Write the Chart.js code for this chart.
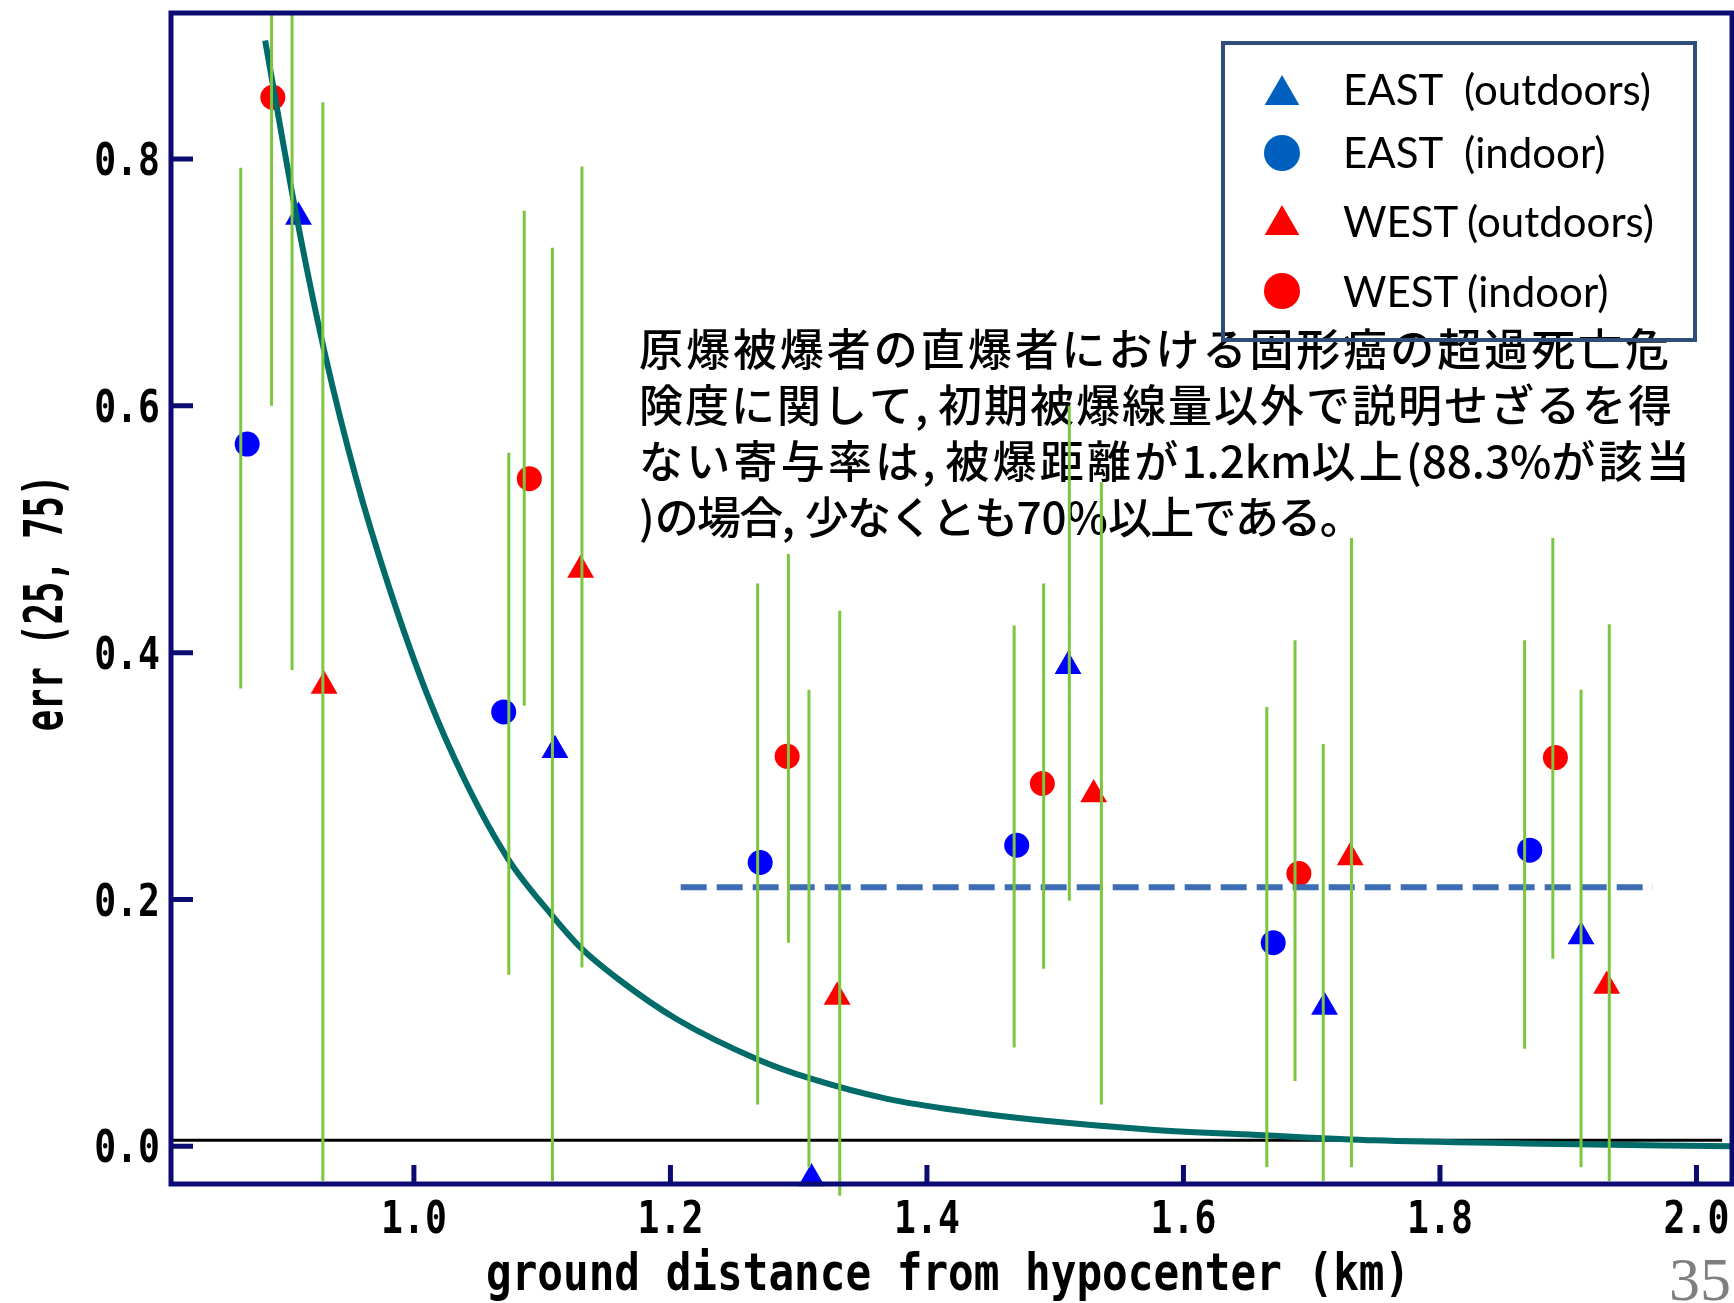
<!DOCTYPE html>
<html><head><meta charset="utf-8">
<script src="https://cdn.jsdelivr.net/npm/chart.js@4.4.1/dist/chart.umd.min.js"></script>
<style>html,body{margin:0;padding:0;background:#fff;overflow:hidden;}#wrap{width:1734px;height:1303px;position:relative;}canvas{display:block;}</style>
</head><body><div id="wrap"><canvas id="c" width="1734" height="1303"></canvas></div>
<script>
// ---------- data ----------
const xTickValues = [1.0, 1.2, 1.4, 1.6, 1.8, 2.0];
const xTickLabels = ['1.0', '1.2', '1.4', '1.6', '1.8', '2.0'];
const yTickValues = [0.0, 0.2, 0.4, 0.6, 0.8];
const yTickLabels = ['0.0', '0.2', '0.4', '0.6', '0.8'];
const xTitle = 'ground distance from hypocenter (km)';
const yTitle = 'err (25, 75)';

const legendNames = ['EAST', 'EAST', 'WEST', 'WEST'];
const legendKinds = ['(outdoors)', '(indoor)', '(outdoors)', '(indoor)'];

// EAST (outdoors) - blue triangles
const eastOutX = [0.910, 1.110, 1.310, 1.510, 1.710, 1.910];
const eastOutY = [0.753, 0.321, -0.026, 0.389, 0.113, 0.170];
const eastOutErrX = [0.905, 1.108, 1.308, 1.511, 1.709, 1.910];
const eastOutLow = [0.386, -0.028, -0.017, 0.199, -0.028, -0.017];
const eastOutHigh = [0.918, 0.728, 0.370, 0.600, 0.326, 0.370];
// EAST (indoor) - blue circles
const eastInX = [0.870, 1.070, 1.270, 1.470, 1.670, 1.870];
const eastInY = [0.569, 0.352, 0.230, 0.244, 0.165, 0.240];
const eastInErrX = [0.865, 1.074, 1.268, 1.468, 1.665, 1.866];
const eastInLow = [0.371, 0.139, 0.034, 0.080, -0.017, 0.079];
const eastInHigh = [0.793, 0.562, 0.456, 0.422, 0.356, 0.410];
// WEST (outdoors) - red triangles
const westOutX = [0.930, 1.130, 1.330, 1.530, 1.730, 1.930];
const westOutY = [0.373, 0.467, 0.121, 0.285, 0.234, 0.130];
const westOutErrX = [0.929, 1.131, 1.332, 1.536, 1.731, 1.932];
const westOutLow = [-0.028, 0.145, -0.040, 0.034, -0.017, -0.028];
const westOutHigh = [0.846, 0.794, 0.434, 0.538, 0.493, 0.423];
// WEST (indoor) - red circles
const westInX = [0.890, 1.090, 1.291, 1.490, 1.690, 1.890];
const westInY = [0.850, 0.541, 0.316, 0.294, 0.221, 0.315];
const westInErrX = [0.889, 1.086, 1.292, 1.491, 1.687, 1.888];
const westInLow = [0.600, 0.357, 0.165, 0.144, 0.053, 0.152];
const westInHigh = [0.918, 0.758, 0.480, 0.456, 0.410, 0.493];

// fitted curve
const curveX = [0.884, 0.908, 0.930, 0.955, 0.980, 1.010, 1.040, 1.074, 1.107, 1.130, 1.160, 1.205, 1.269, 1.309, 1.369, 1.429, 1.488, 1.575, 1.662, 1.749, 1.865, 2.028];
const curveY = [0.896, 0.756, 0.645, 0.541, 0.455, 0.367, 0.296, 0.232, 0.188, 0.161, 0.135, 0.103, 0.070, 0.055, 0.0385, 0.0284, 0.0211, 0.0135, 0.0090, 0.0049, 0.0024, 0.000];

// dashed reference level and the black base line
const refLineX = [1.208, 1.966];
const refLineY = 0.210;
const baseLineX = [0.811, 2.020];
const baseLineY = 0.005;

const annotationLines = [
  '原爆被爆者の直爆者における固形癌の超過死亡危',
  '険度に関して, 初期被爆線量以外で説明せざるを得',
  'ない寄与率は, 被爆距離が1.2km以上(88.3%が該当',
  ')の場合, 少なくとも70%以上である。'
];
const pageNumber = '35';

// ---------- helpers ----------
const pts = (xs, ys) => xs.map((x, i) => ({x: x, y: ys[i]}));
function segs(xs, lo, hi) {
  const out = [];
  xs.forEach((x, i) => { out.push({x: x, y: lo[i]}, {x: x, y: hi[i]}, {x: x, y: null}); });
  return out;
}
const errData = [].concat(
  segs(eastOutErrX, eastOutLow, eastOutHigh),
  segs(eastInErrX, eastInLow, eastInHigh),
  segs(westOutErrX, westOutLow, westOutHigh),
  segs(westInErrX, westInLow, westInHigh)
);

const BLUE = '#0000FF', RED = '#FF0000';
const NAVY = '#0B0B73';

function scaledText(ctx, txt, x, y, sx, align) {
  ctx.save();
  ctx.translate(x, y);
  ctx.scale(sx, 1);
  ctx.textAlign = align;
  ctx.fillText(txt, 0, 0);
  ctx.restore();
}

function drawMixedLine(ctx, text, x0, y, target) {
  const runs = text.match(/[\x20-\x7E]+|[^\x20-\x7E]+/g);
  const hasLS = ('letterSpacing' in ctx);
  if (hasLS) ctx.letterSpacing = '0px';
  let natural = 0, n = 0;
  const w = runs.map(r => { const m = ctx.measureText(r).width; natural += m; if (!/^[\x20-\x7E]/.test(r)) n += [...r].length; return m; });
  const s = n ? (target - x0 - natural) / n : 0;
  let x = x0;
  runs.forEach((r, i) => {
    const latin = /^[\x20-\x7E]/.test(r);
    if (latin) {
      if (hasLS) ctx.letterSpacing = '0px';
      ctx.fillText(r, x, y);
      x += w[i];
    } else if (hasLS) {
      ctx.letterSpacing = s + 'px';
      ctx.fillText(r, x, y);
      x += w[i] + s * [...r].length;
    } else {
      [...r].forEach(ch => { ctx.fillText(ch, x, y); x += ctx.measureText(ch).width + s; });
    }
  });
  if (hasLS) ctx.letterSpacing = '0px';
}

function marker(ctx, style, x, y, r, color) {
  ctx.fillStyle = color;
  ctx.beginPath();
  if (style === 'triangle') {
    const h = r * Math.sin(Math.PI / 3);
    ctx.moveTo(x, y - r);
    ctx.lineTo(x + h, y + r / 2);
    ctx.lineTo(x - h, y + r / 2);
    ctx.closePath();
  } else {
    ctx.arc(x, y, r, 0, Math.PI * 2);
  }
  ctx.fill();
}

const decor = {
  id: 'decor',
  beforeDatasetsDraw(chart) {
    const ctx = chart.ctx;
    ctx.save();
    ctx.fillStyle = '#000';
    ctx.font = '500 44px "Noto Sans CJK JP"';
    ctx.textBaseline = 'middle';
    const starts = [639, 639, 639, 639];
    const ends = [1672, 1674, 1693, 1362];
    const ys = [349, 405, 461, 517];
    annotationLines.forEach((t, i) => drawMixedLine(ctx, t, starts[i], ys[i], ends[i]));
    ctx.restore();
  },
  afterDatasetsDraw(chart) {
    const ctx = chart.ctx, a = chart.chartArea;
    const xs = chart.scales.x, ys = chart.scales.y;
    ctx.save();
    // frame
    ctx.strokeStyle = NAVY;
    ctx.lineWidth = 5;
    ctx.strokeRect(a.left, a.top, a.right - a.left, a.bottom - a.top);
    // inward ticks
    ctx.beginPath();
    yTickValues.forEach(v => { const p = ys.getPixelForValue(v); ctx.moveTo(a.left, p); ctx.lineTo(a.left + 22, p); });
    xTickValues.forEach(v => { const p = xs.getPixelForValue(v); ctx.moveTo(p, a.bottom); ctx.lineTo(p, a.bottom - 19); });
    ctx.stroke();
    // tick labels
    ctx.fillStyle = '#000';
    ctx.font = 'bold 45px "DejaVu Sans Mono"';
    ctx.textBaseline = 'alphabetic';
    yTickValues.forEach((v, i) => scaledText(ctx, yTickLabels[i], 160, ys.getPixelForValue(v) + 16, 0.81, 'right'));
    xTickValues.forEach((v, i) => scaledText(ctx, xTickLabels[i], xs.getPixelForValue(v), 1233, 0.81, 'center'));
    // axis titles
    ctx.font = 'bold 52px "DejaVu Sans Mono"';
    scaledText(ctx, xTitle, 486, 1290, 0.82, 'left');
    ctx.save();
    ctx.font = 'bold 54px "DejaVu Sans Mono"';
    ctx.translate(62, 603);
    ctx.rotate(-Math.PI / 2);
    ctx.scale(0.658, 1);
    ctx.textAlign = 'center';
    ctx.fillText(yTitle, 0, 0);
    ctx.restore();
    // legend
    ctx.strokeStyle = '#2E4D7B';
    ctx.lineWidth = 4;
    ctx.strokeRect(1223, 43, 472, 297);
    const rowsMarkerY = [95, 153, 225, 291];
    const rowsTextY = [105, 168, 237, 307];
    const styles = ['triangle', 'circle', 'triangle', 'circle'];
    const colors = ['#0060C0', '#0060C0', '#FF0000', '#FF0000'];
    const parenX = [1464, 1464, 1467, 1467];
    legendNames.forEach((nm, i) => {
      marker(ctx, styles[i], 1282, rowsMarkerY[i], styles[i] === 'triangle' ? 20 : 18, colors[i]);
      ctx.fillStyle = '#000';
      ctx.font = '42px Lato';
      ctx.textAlign = 'left';
      ctx.fillText(nm, 1343, rowsTextY[i]);
      ctx.fillText(legendKinds[i], parenX[i], rowsTextY[i]);
    });
    // page number
    ctx.fillStyle = '#7F7F7F';
    ctx.font = '62px "Liberation Serif"';
    ctx.textAlign = 'right';
    ctx.fillText(pageNumber, 1731, 1300);
    ctx.restore();
  }
};

new Chart(document.getElementById('c'), {
  type: 'scatter',
  data: {
    datasets: [
      {label: 'error bars', type: 'line', data: errData, showLine: true, spanGaps: false, borderColor: '#7DC63F', borderWidth: 3, pointRadius: 0, order: 0, clip: false},
      {label: 'fit', type: 'line', data: pts(curveX, curveY), showLine: true, borderColor: '#006B68', borderWidth: 6, pointRadius: 0, cubicInterpolationMode: 'monotone', order: 1},
      {label: 'level', type: 'line', data: pts(refLineX, refLineX.map(() => refLineY)), showLine: true, borderColor: '#3D6DB5', borderWidth: 6, borderDash: [26, 10], pointRadius: 0, order: 2},
      {label: 'base', type: 'line', data: pts(baseLineX, baseLineX.map(() => baseLineY)), showLine: true, borderColor: '#000000', borderWidth: 3, pointRadius: 0, order: 2},
      {label: 'EAST (outdoors)', data: pts(eastOutX, eastOutY), pointStyle: 'triangle', pointRadius: 15.5, backgroundColor: BLUE, borderWidth: 0, order: 3, clip: false},
      {label: 'EAST (indoor)', data: pts(eastInX, eastInY), pointStyle: 'circle', pointRadius: 12.5, backgroundColor: BLUE, borderWidth: 0, order: 3, clip: false},
      {label: 'WEST (outdoors)', data: pts(westOutX, westOutY), pointStyle: 'triangle', pointRadius: 15.5, backgroundColor: RED, borderWidth: 0, order: 3, clip: false},
      {label: 'WEST (indoor)', data: pts(westInX, westInY), pointStyle: 'circle', pointRadius: 12.5, backgroundColor: RED, borderWidth: 0, order: 3, clip: false}
    ]
  },
  options: {
    responsive: false,
    devicePixelRatio: 1,
    animation: false,
    events: [],
    layout: {autoPadding: false, padding: {left: 171, top: 13, right: 2, bottom: 119}},
    scales: {
      x: {type: 'linear', min: 0.8106, max: 2.0277, display: false},
      y: {type: 'linear', min: -0.0305, max: 0.9183, display: false}
    },
    plugins: {legend: {display: false}, tooltip: {enabled: false}}
  },
  plugins: [decor]
});
</script>
</body></html>
